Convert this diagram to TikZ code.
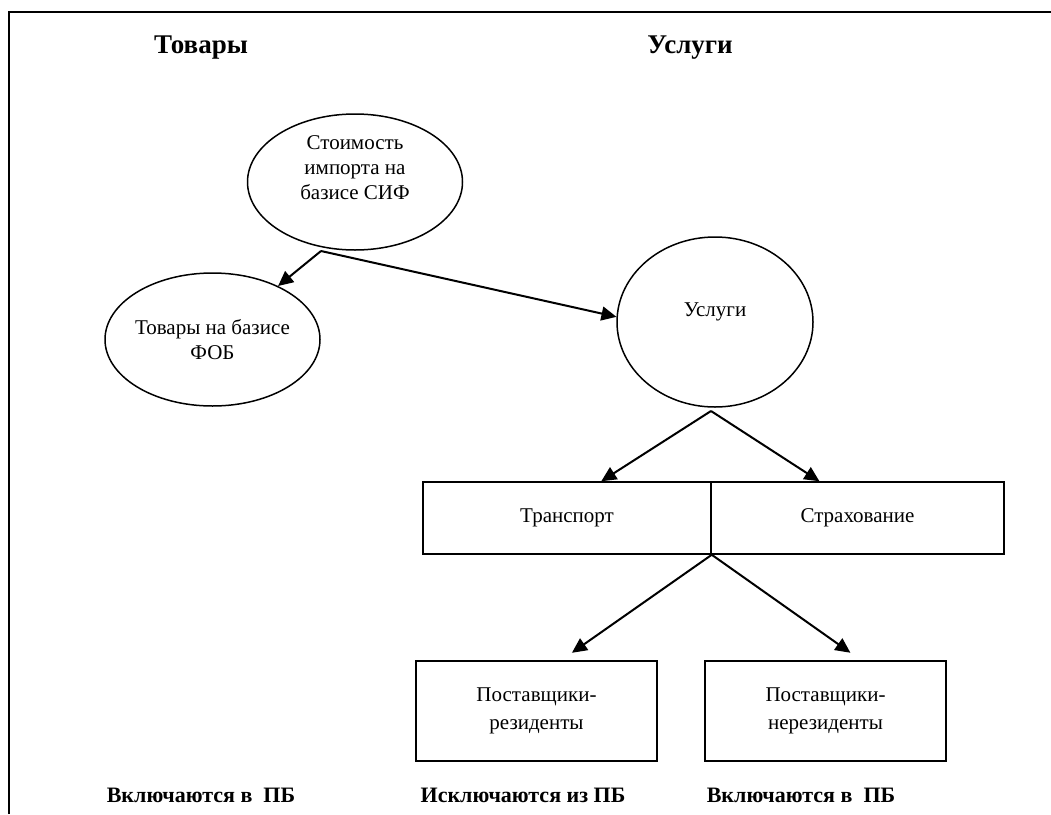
\documentclass[tikz,border=0pt]{standalone}
\usepackage{fontspec}
\setmainfont{Liberation Serif}
\usetikzlibrary{shapes.geometric,arrows.meta}

\begin{document}
\begin{tikzpicture}[x=1pt,y=1pt,
	oval/.style={draw=black,ellipse,line width=1.5pt,inner sep=0pt},
	box/.style={draw=black,rectangle,line width=1.5pt,inner sep=0pt,align=center,font=\fontsize{21}{28}\selectfont},
	txt/.style={align=center,inner sep=0pt,font=\fontsize{21}{25}\selectfont},
	head/.style={font=\bfseries\fontsize{27}{30}\selectfont,inner sep=0pt,anchor=base},
	foot/.style={font=\bfseries\fontsize{22}{26}\selectfont,inner sep=0pt,anchor=base},
	link/.style={-{Triangle[length=15pt,width=14pt]},line width=2pt}]
	\useasboundingbox (0,0) rectangle (1051,-814);
	\draw [black,line width=2.2pt] (9,-814) -- (9,-12) -- (1051,-12);
	\node[head] (goods) at (201,-53) {Товары};
	\node[head] (serv) at (690,-53) {Услуги};
	\node[oval,minimum width=215pt,minimum height=136pt] (sif) at (355,-182) {};
	\node[txt] (sif-t) at (355,-168) {Стоимость\\импорта на\\базисе СИФ};
	\node[oval,minimum width=215pt,minimum height=133pt] (fob) at (212.5,-339.5) {};
	\node[txt] (fob-t) at (212.5,-340) {Товары на базисе\\ФОБ};
	\node[oval,minimum width=196pt,minimum height=170pt] (usl) at (715,-322) {};
	\node[txt] (usl-t) at (715,-312) {Услуги};
	\node[box,minimum width=288pt,minimum height=72pt] (trans) at (567,-518) {Транспорт};
	\node[box,minimum width=293pt,minimum height=72pt] (strah) at (857.5,-518) {Страхование};
	\node[box,minimum width=241pt,minimum height=100pt] (res) at (536.5,-711) {Поставщики-\\резиденты};
	\node[box,minimum width=241pt,minimum height=100pt] (nonres) at (825.5,-711) {Поставщики-\\нерезиденты};
	\node[foot] (inc-a) at (201,-802) {Включаются в~~ПБ};
	\node[foot] (exc) at (523,-802) {Исключаются из ПБ};
	\node[foot] (inc-b) at (801,-802) {Включаются в~~ПБ};
	% arrows
	\coordinate (sif-out) at (321,-251);
	\coordinate (usl-out) at (711,-411);
	\draw [link] (sif-out) -- (fob);
	\draw [link] (sif-out) -- (usl.177);
	\draw [link] (usl-out) -- (trans.47);
	\draw [link] (usl-out) -- (strah.136);
	\draw [link,shorten >=13pt] (trans.south east) -- (res.64);
	\draw [link,shorten >=13pt] (trans.south east) -- (nonres.55);
\end{tikzpicture}
\end{document}
